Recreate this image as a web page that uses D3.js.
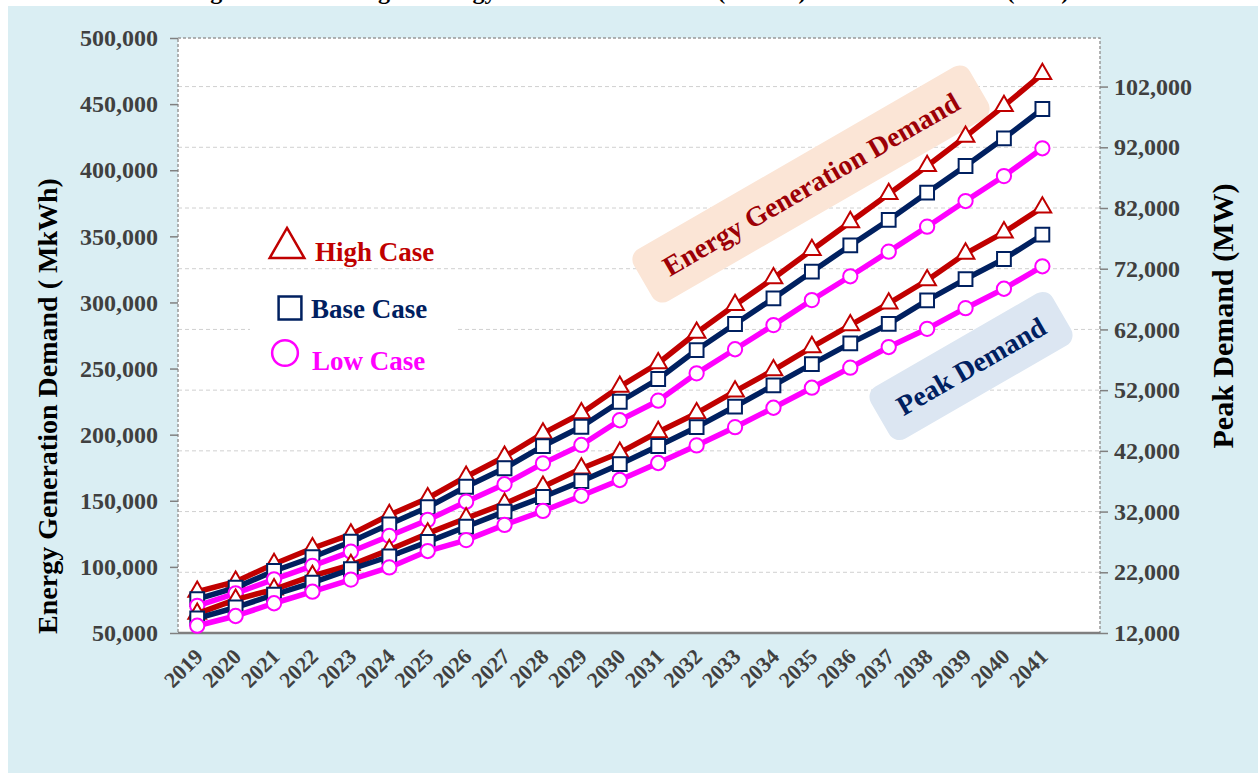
<!DOCTYPE html>
<html>
<head>
<meta charset="utf-8">
<script src="https://cdn.jsdelivr.net/npm/d3@7/dist/d3.min.js"></script>
<style>
  html, body { margin: 0; padding: 0; background: #ffffff; }
  svg { display: block; }
  text { font-family: "Liberation Serif", "Times New Roman", serif; font-weight: bold; }
</style>
</head>
<body>
<svg id="chart" width="1258" height="773"></svg>
<script>
// ---------------- data ----------------
const years = ["2019","2020","2021","2022","2023","2024","2025","2026","2027","2028","2029","2030",
               "2031","2032","2033","2034","2035","2036","2037","2038","2039","2040","2041"];

// Energy Generation Demand (MkWh) - left axis
const energyHigh = [81200, 88800, 102200, 114100, 124600, 139200, 151900, 168200, 183300, 201000, 216200, 236300,
                    254000, 277100, 298100, 318300, 339700, 360800, 382000, 403200, 425400, 448600, 472800];
const energyBase = [75700, 84300, 96900, 107300, 119000, 132200, 145100, 160600, 174600, 191400, 206000, 224900,
                    242100, 264000, 283700, 303100, 323300, 343100, 362400, 383000, 403200, 424100, 446300];
const energyLow  = [70600, 80000, 90600, 100700, 111500, 123400, 135500, 149300, 162500, 178300, 192200, 210900,
                    225700, 246400, 264600, 282900, 301800, 319800, 338400, 357300, 376700, 395600, 416600];

// Peak Demand (MW) - right axis
const peakHigh = [15200, 17500, 19200, 21400, 23200, 25700, 28400, 30900, 33300, 36100, 39100, 41700,
                  45100, 48200, 51800, 55300, 59100, 62700, 66300, 70100, 74500, 78000, 82100];
const peakBase = [14400, 16200, 18300, 20300, 22500, 24600, 27000, 29500, 32000, 34400, 37000, 39800,
                  42800, 45900, 49300, 52800, 56300, 59700, 62900, 66800, 70300, 73600, 77600];
const peakLow  = [13200, 14800, 16900, 18800, 20800, 22800, 25500, 27300, 29800, 32100, 34600, 37200,
                  40000, 42900, 45900, 49100, 52400, 55700, 59100, 62100, 65500, 68700, 72400];

const leftTicks  = [50000, 100000, 150000, 200000, 250000, 300000, 350000, 400000, 450000, 500000];
const rightTicks = [12000, 22000, 32000, 42000, 52000, 62000, 72000, 82000, 92000, 102000];

const caseNames = ["High Case", "Base Case", "Low Case"];

// ---------------- layout ----------------
const svg = d3.select("#chart");
const W = 1258, H = 773;
const plot = { left: 178, right: 1100, top: 38, bottom: 633 };
const plotW = plot.right - plot.left;
const slots = years.length + 1; // axis reserves one empty slot at the end

const colors = { high: "#c00000", base: "#002060", low: "#ff00ff" };
const FONT = "Liberation Serif, Times New Roman, serif";

// background
svg.append("rect").attr("x", 8).attr("y", 6).attr("width", W - 8).attr("height", H - 6)
  .attr("fill", "#daeef3");

// caption (cut off at the top edge, as in the source page)
svg.append("text").attr("x", 629).attr("y", -1.5).attr("text-anchor", "middle")
  .attr("font-size", 24).attr("fill", "#000")
  .text("Figure: Forecasting of Energy Generation Demand (MkWh) and Peak Demand (MW)");

// plot area
svg.append("rect").attr("x", plot.left).attr("y", plot.top).attr("width", plotW)
  .attr("height", plot.bottom - plot.top).attr("fill", "#ffffff");

// scales
const x = d3.scaleBand().domain(years)
  .range([plot.left, plot.left + plotW * years.length / slots]).padding(0);
const cx = d => x(d) + x.bandwidth() / 2;
const yL = d3.scaleLinear().domain([50000, 500000]).range([plot.bottom, plot.top]);
const yR = d3.scaleLinear().domain([12000, 110000]).range([plot.bottom, plot.top]);

// gridlines (right axis ticks)
svg.append("g").selectAll("line").data(rightTicks.slice(1)).join("line")
  .attr("x1", plot.left).attr("x2", plot.right)
  .attr("y1", d => yR(d)).attr("y2", d => yR(d))
  .attr("stroke", "#d0d0d0").attr("stroke-width", 1).attr("stroke-dasharray", "4,3");

// plot border (dashed)
svg.append("rect").attr("x", plot.left).attr("y", plot.top).attr("width", plotW)
  .attr("height", plot.bottom - plot.top).attr("fill", "none")
  .attr("stroke", "#9a9a9a").attr("stroke-width", 1.5).attr("stroke-dasharray", "3,2");

// left axis
const axL = svg.append("g").attr("transform", `translate(${plot.left},0)`)
  .call(d3.axisLeft(yL).tickValues(leftTicks).tickFormat(d3.format(",")).tickSize(8).tickPadding(12));
axL.select(".domain").remove();
axL.selectAll(".tick line").attr("stroke", "#808080").attr("stroke-width", 1.5);
axL.selectAll(".tick text").attr("font-size", 24).attr("fill", "#404040")
  .attr("font-family", FONT).attr("font-weight", "bold");

// right axis
const axR = svg.append("g").attr("transform", `translate(${plot.right},0)`)
  .call(d3.axisRight(yR).tickValues(rightTicks).tickFormat(d3.format(",")).tickSize(8).tickPadding(6));
axR.select(".domain").remove();
axR.selectAll(".tick line").attr("stroke", "#808080").attr("stroke-width", 1.5);
axR.selectAll(".tick text").attr("font-size", 24).attr("fill", "#404040")
  .attr("font-family", FONT).attr("font-weight", "bold");

// bottom axis
const axB = svg.append("g").attr("transform", `translate(0,${plot.bottom})`)
  .call(d3.axisBottom(x).tickSize(0).tickPadding(0));
axB.select(".domain").attr("d", `M${plot.left},0H${plot.right}`).attr("stroke", "#7f7f7f").attr("stroke-width", 2.5);
axB.selectAll(".tick text").attr("font-size", 22).attr("fill", "#404040")
  .attr("font-family", FONT).attr("font-weight", "bold")
  .attr("text-anchor", "end").attr("dy", null).attr("y", 0)
  .attr("transform", "translate(7,25) rotate(-45)");

// axis titles
svg.append("text").attr("transform", "translate(57,406) rotate(-90)").attr("text-anchor", "middle")
  .attr("font-size", 28).attr("fill", "#000").text("Energy Generation Demand ( MkWh)");
svg.append("text").attr("transform", "translate(1233,316) rotate(-90)").attr("text-anchor", "middle")
  .attr("font-size", 30).attr("fill", "#000").text("Peak Demand (MW)");

// annotation boxes
function label(cxp, cyp, w, h, angle, fill, color, txt) {
  const g = svg.append("g").attr("transform", `translate(${cxp},${cyp}) rotate(${angle})`);
  g.append("rect").attr("x", -w / 2).attr("y", -h / 2).attr("width", w).attr("height", h)
    .attr("rx", 12).attr("fill", fill);
  g.append("text").attr("text-anchor", "middle").attr("dy", "0.35em")
    .attr("font-size", 28).attr("fill", color).text(txt);
}
label(811, 184, 388, 60, -30, "#fbe5d6", "#9c0006", "Energy Generation Demand");
label(971, 366, 210, 60, -30, "#dce6f2", "#002060", "Peak Demand");

// series
const series = [
  { vals: energyHigh, y: yL, color: colors.high, sym: "tri" },
  { vals: energyBase, y: yL, color: colors.base, sym: "sq" },
  { vals: energyLow,  y: yL, color: colors.low,  sym: "circ" },
  { vals: peakHigh,   y: yR, color: colors.high, sym: "tri" },
  { vals: peakBase,   y: yR, color: colors.base, sym: "sq" },
  { vals: peakLow,    y: yR, color: colors.low,  sym: "circ" }
];
const symGen = {
  tri: d3.symbol().type(d3.symbolTriangle).size(135),
  sq: d3.symbol().type(d3.symbolSquare).size(190),
  circ: d3.symbol().type(d3.symbolCircle).size(160)
};

series.forEach(s => {
  const pts = years.map((yr, i) => [cx(yr), s.y(s.vals[i])]);
  svg.append("path").attr("d", d3.line()(pts)).attr("fill", "none")
    .attr("stroke", s.color).attr("stroke-width", 5.5).attr("stroke-linejoin", "round");
  svg.append("g").selectAll("path").data(pts).join("path")
    .attr("transform", d => `translate(${d[0]},${d[1]})`)
    .attr("d", symGen[s.sym]())
    .attr("fill", "#ffffff").attr("stroke", s.color).attr("stroke-width", 2);
});

// legend
svg.append("rect").attr("x", 250).attr("y", 285).attr("width", 208).attr("height", 92).attr("fill", "#ffffff");
const legendItems = [
  { name: caseNames[0], color: colors.high, sym: d3.symbolTriangle, size: 520, mx: 287, my: 248, tx: 315, ty: 261 },
  { name: caseNames[1], color: colors.base, sym: d3.symbolSquare,   size: 520, mx: 290, my: 308, tx: 311, ty: 318 },
  { name: caseNames[2], color: colors.low,  sym: d3.symbolCircle,   size: 520, mx: 285, my: 353, tx: 312, ty: 370 }
];
legendItems.forEach(l => {
  svg.append("path").attr("transform", `translate(${l.mx},${l.my})`)
    .attr("d", d3.symbol().type(l.sym).size(l.size)())
    .attr("fill", "none").attr("stroke", l.color).attr("stroke-width", 2.5);
  svg.append("text").attr("x", l.tx).attr("y", l.ty).attr("font-size", 27)
    .attr("fill", l.color).text(l.name);
});
</script>
</body>
</html>
